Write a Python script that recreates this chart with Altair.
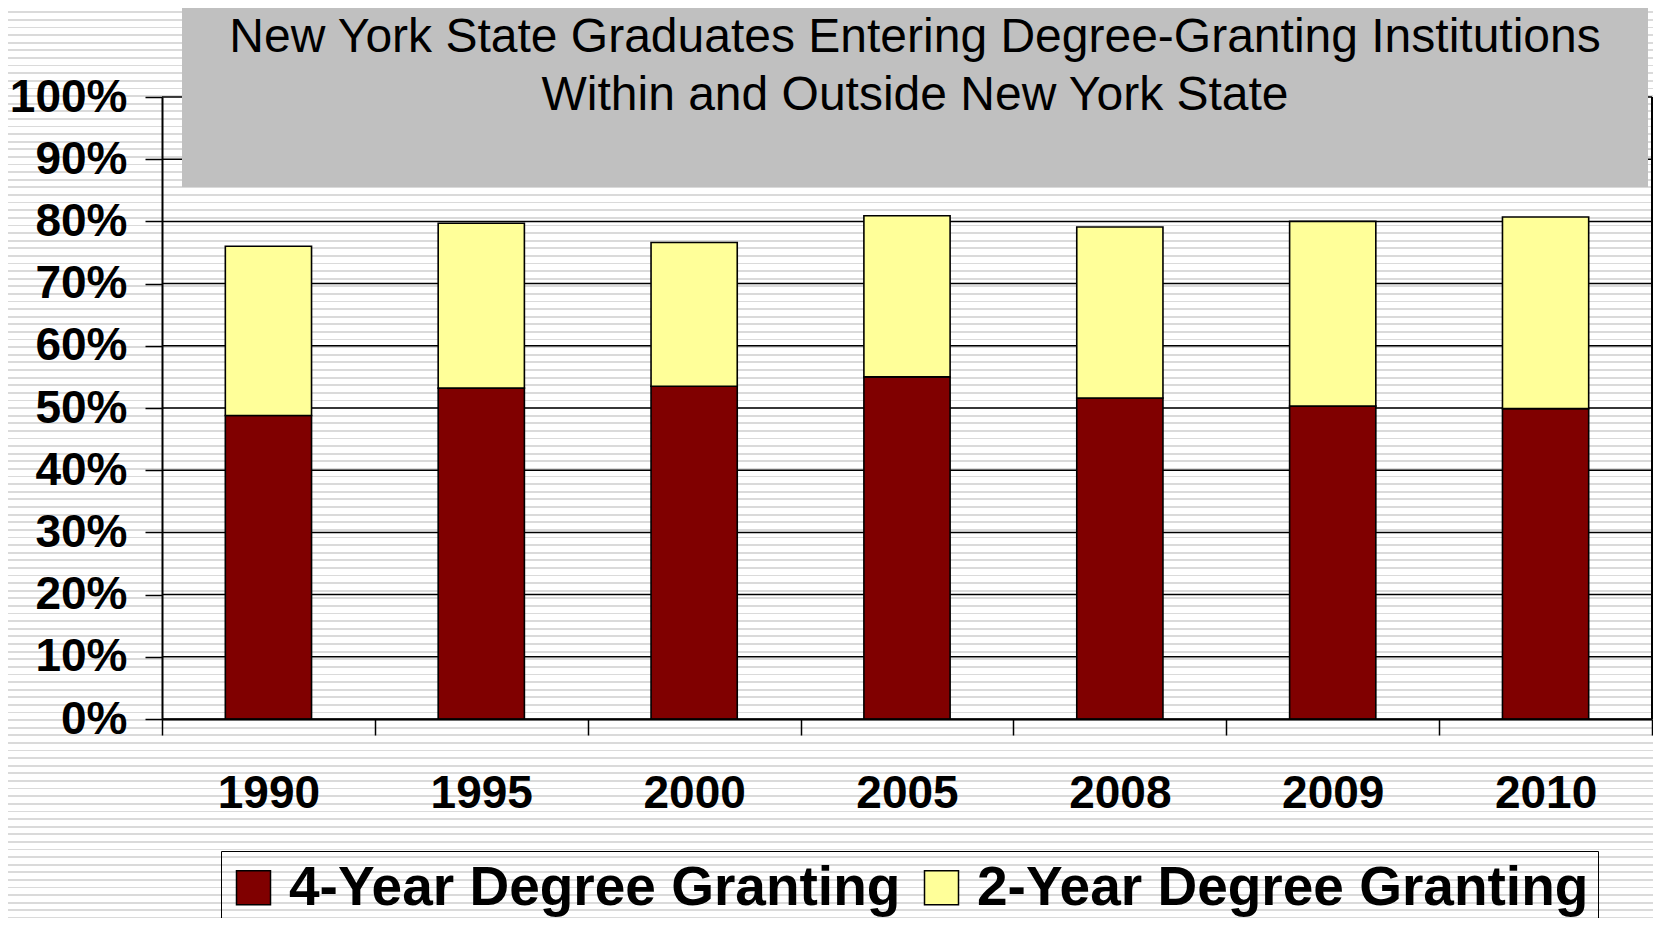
import altair as alt
import pandas as pd

# ---------------- data ----------------
YEARS = ["1990", "1995", "2000", "2005", "2008", "2009", "2010"]
FOUR_YEAR = [0.488, 0.532, 0.535, 0.550, 0.516, 0.503, 0.499]
TWO_YEAR = [0.272, 0.265, 0.231, 0.259, 0.275, 0.297, 0.308]
SERIES = ["4-Year Degree Granting", "2-Year Degree Granting"]
COLORS = ["#800000", "#ffff99"]
Y_TICKS = [0.0, 0.1, 0.2, 0.3, 0.4, 0.5, 0.6, 0.7, 0.8, 0.9, 1.0]
TITLE_LINES = [
    "New York State Graduates Entering Degree-Granting Institutions",
    "Within and Outside New York State",
]

FONT = "Liberation Sans"
W, H = 1490, 622
PAD = {"left": 154, "top": 89, "right": 1, "bottom": 199}
CANVAS_H = PAD["top"] + H + PAD["bottom"]

rows = []
for i, y in enumerate(YEARS):
    rows.append({"year": y, "series": SERIES[0], "ord": 0, "value": FOUR_YEAR[i]})
    rows.append({"year": y, "series": SERIES[1], "ord": 1, "value": TWO_YEAR[i]})
df = pd.DataFrame(rows)
ticks_df = pd.DataFrame({"tick": Y_TICKS})
one = pd.DataFrame({"k": [1]})

# ------------- striped page background (decoration) -------------
period, phase, thick = 7.6106, 4.7, 1.8
stops = [alt.GradientStop(offset=0, color="#ffffff")]
k = 0
while True:
    c = phase + period * k
    a, b = c - thick / 2, c + thick / 2
    k += 1
    if b <= 8:
        continue
    if a >= 8 + CANVAS_H:
        break
    oa = max(0.0, (a - 8) / CANVAS_H)
    ob = min(1.0, (b - 8) / CANVAS_H)
    stops += [
        alt.GradientStop(offset=oa, color="#ffffff"),
        alt.GradientStop(offset=oa, color="#dadada"),
        alt.GradientStop(offset=ob, color="#dadada"),
        alt.GradientStop(offset=ob, color="#ffffff"),
    ]
stops.append(alt.GradientStop(offset=1, color="#ffffff"))
grad = alt.LinearGradient(gradient="linear", stops=stops, x1=0, x2=0, y1=0, y2=1)

background = alt.Chart(one).mark_rect(fill=grad, strokeWidth=0).encode(
    x=alt.value(-PAD["left"]), x2=alt.value(W + PAD["right"]),
    y=alt.value(-PAD["top"]), y2=alt.value(H + PAD["bottom"]),
)

yscale = alt.Scale(domain=[0, 1], nice=False, zero=True)
yaxis = alt.Axis(
    title=None, values=Y_TICKS, format=".0%", labelFont=FONT,
    labelFontSize=46, labelFontWeight="bold", labelColor="black",
    labelPadding=18, tickSize=17, tickColor="black", tickWidth=1.5,
    domainColor="black", domainWidth=2, grid=False, zindex=1,
)

grid = alt.Chart(ticks_df).mark_rule(color="black", strokeWidth=1.5).encode(
    y=alt.Y("tick:Q", scale=yscale, axis=yaxis)
)

bars = alt.Chart(df).mark_bar(
    stroke="black", strokeWidth=1.6, width=alt.RelativeBandSize(0.405)
).encode(
    x=alt.X(
        "year:N",
        sort=YEARS,
        scale=alt.Scale(paddingInner=0, paddingOuter=0),
        axis=alt.Axis(
            title=None, labelAngle=0, labelFont=FONT, labelFontSize=46,
            labelFontWeight="bold", labelColor="black", labelBaseline="alphabetic",
            labelPadding=72, tickSize=16, tickBand="extent", tickColor="black",
            tickWidth=1.5, domainColor="black", domainWidth=2, grid=False,
            zindex=1,
        ),
    ),
    y=alt.Y("value:Q", stack="zero", scale=yscale, axis=yaxis),
    color=alt.Color(
        "series:N",
        scale=alt.Scale(domain=SERIES, range=COLORS),
        legend=alt.Legend(
            title=None, orient="none", legendX=59, legendY=754,
            direction="horizontal", labelFont=FONT, labelFontSize=55,
            labelFontWeight="bold", labelColor="black", labelLimit=2000,
            symbolType="square", symbolSize=1156, symbolStrokeColor="black",
            symbolStrokeWidth=1.5, symbolOpacity=1, strokeColor="black",
            padding=9, labelOffset=8, symbolOffset=-4, columnPadding=17,
        ),
    ),
    order=alt.Order("ord:Q", sort="ascending"),
)

title_box = alt.Chart(one).mark_rect(fill="#c0c0c0", strokeWidth=0).encode(
    x=alt.value(20), x2=alt.value(1486),
    y=alt.value(-PAD["top"]), y2=alt.value(90),
)

title_text = alt.Chart(one).mark_text(
    text=TITLE_LINES, font=FONT, fontSize=48, color="black", align="center",
    baseline="alphabetic", lineHeight=58.3,
).encode(x=alt.value(753), y=alt.value(-45.5))

right_border = alt.Chart(one).mark_rule(color="black", strokeWidth=2).encode(
    x=alt.value(W), y=alt.value(0), y2=alt.value(H)
)

chart = (
    alt.layer(background, grid, bars, title_box, title_text, right_border)
    .properties(
        width=W, height=H, padding=PAD,
        autosize=alt.AutoSizeParams(type="none"),
        background="white",
    )
    .configure_view(stroke=None)
)

chart.save("out.html", embed_options={"renderer": "svg", "actions": False})
